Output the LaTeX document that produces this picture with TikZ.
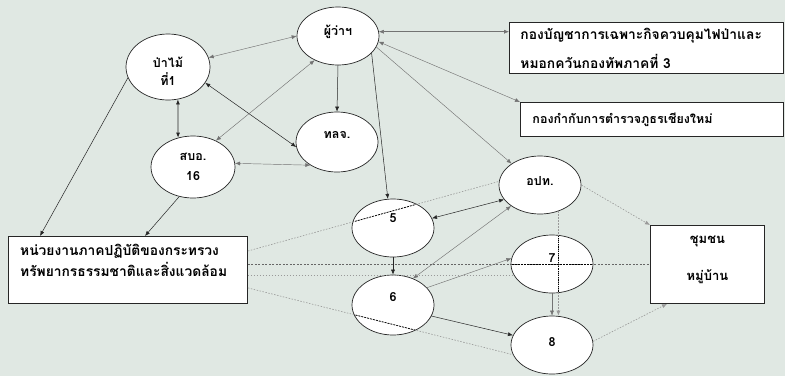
\documentclass[tikz,border=0pt]{standalone}
\usepackage{fontspec}
\newfontfamily\thaifont[Script=Thai]{Loma}
\usetikzlibrary{shapes.geometric,arrows.meta,calc}
\definecolor{bg}{HTML}{E0E8E3}
\begin{document}
\begin{tikzpicture}[x=1pt,y=-1pt,
  font=\thaifont\bfseries\fontsize{12.5}{14}\selectfont,
  ell/.style={ellipse,draw=black!85,fill=white,line width=0.7pt,inner sep=0pt,minimum width=82pt,minimum height=58pt},
  box/.style={rectangle,draw=black!85,fill=white,line width=0.9pt,inner sep=0pt,anchor=north west},
  lbl/.style={inner sep=0pt,align=center},
  conn/.style={draw=black!55,line width=0.45pt},
  dark/.style={draw=black!85,line width=0.5pt},
  tip/.style={-{Latex[length=5pt,width=4pt]}},
  both/.style={{Latex[length=5pt,width=4pt]}-{Latex[length=5pt,width=4pt]}},
  dots/.style={draw=black!40,line width=0.6pt,dash pattern=on 1.5pt off 1.5pt},
  dashline/.style={draw=black!60,line width=0.5pt,dash pattern=on 2pt off 1.5pt},
  innerdash/.style={draw=black,line width=0.7pt,dash pattern=on 2pt off 1pt}
]
\fill[bg] (0,0) rectangle (785,376);
\useasboundingbox (0,0) rectangle (785,376);

% ellipses
\node[ell,minimum width=84pt,minimum height=66pt,label={[lbl,yshift=-4pt]center:{ป่าไม้\\[4pt]ที่1}}] (pm) at (168,67) {};
\node[ell,label={[lbl,yshift=4pt]center:ผู้ว่าฯ}] (gov) at (338,36) {};
\node[ell,minimum height=60pt,label={[lbl,yshift=7pt]center:ทลจ.}] (tlj) at (337,142) {};
\node[ell,minimum width=84pt,minimum height=62pt,label={[lbl]center:{สบอ.\\[6pt]16}}] (sbo) at (193,167) {};
\node[ell] (n5) at (393,228) {};
\node[ell,minimum height=60pt] (n6) at (393,305) {};
\node[ell,label={[lbl,yshift=4pt]center:อปท.}] (opt) at (540,185) {};
\node[ell] (n7) at (552,264) {};
\node[ell] (n8) at (552,345) {};

% boxes
\node[box,minimum width=274pt,minimum height=51pt,text width=252pt,inner xsep=11pt,align=left,font=\thaifont\bfseries\fontsize{13.8}{29}\selectfont] (b1) at (509,22) {กองบัญชาการเฉพาะกิจควบคุมไฟป่าและ\\หมอกควันกองทัพภาคที่ 3};
\node[box,minimum width=263pt,minimum height=34pt,text width=239pt,inner xsep=12pt,align=left] (b2) at (520,102) {กองกำกับการตำรวจภูธรเชียงใหม่};
\node[box,minimum width=239pt,minimum height=67pt] (hn) at (8,236) {};
\node[lbl,anchor=north west,align=left,font=\thaifont\bfseries\fontsize{13.8}{21}\selectfont] (hnt) at ($(hn.north west)+(12,8)$) {หน่วยงานภาคปฏิบัติของกระทรวง\\ทรัพยากรธรรมชาติและสิ่งแวดล้อม};
\node[box,minimum width=114pt,minimum height=78pt] (cm) at (650,225) {};
\node[lbl,font=\thaifont\bfseries\fontsize{13}{37}\selectfont] (cmt) at ($(cm.center)+(0,-5)$) {ชุมชน\\หมู่บ้าน};

% solid connectors
\draw[conn,both] (pm.13) -- (gov.180);
\draw[dark,tip] (gov.south) -- (tlj.north);
\draw[dark,both] (pm.-23) -- (tlj.187);
\draw[conn,both] (sbo.49) -- (gov.226);
\draw[conn,both] (tlj.221) -- (sbo.5);
\draw[dark,both,line width=0.8pt] (pm.-73) -- (sbo.117);
\draw[dark,tip] (pm.195) -- ($(hn.north west)+(32,0)$);
\draw[dark,tip] (sbo.245) -- ($(hn.north west)+(137,0)$);
\draw[dark,tip] (gov.-27) -- (n5.100);
\draw[conn,both] (gov.6) -- (gov.6 -| b1.west);
\draw[conn,both] (gov.-8) -- (b2.north west);
\draw[conn,tip] (gov.-16) -- (opt.143);
\draw[dark,both] (n5.14) -- (opt.202);
\draw[conn,both] (n6.53) -- (opt.216);
\draw[dark,tip] (n5.south) -- (n6.north);
\draw[conn,tip] (n6.27) -- (n7.172);
\draw[dark,tip] (n6.-16) -- (n8.166);
\draw[conn,tip] (n7.south) -- (n8.north);

% dotted connectors
\draw[dots,tip] (opt.-55) -- (opt.-55 |- n8.north);
\draw[dots,tip] (opt.east) -- (cm.north west);
\draw[dots,tip] (n8.5) -- ($(cm.south west)+(17,0)$);
\draw[dots] ($(hn.north east)+(0,15)$) -- (opt.175);
\draw[dashline] (cm.west -| hn.east) -- (cm.west);
\draw[dots] (n7.197 -| hn.east) -- (n7.197);
\draw[dots] ($(hn.south east)+(0,-16)$) -- (n8.194);

% darker parts inside ellipses
\begin{scope}
\clip (n5.center) ellipse [x radius=40.5pt,y radius=28.5pt];
\draw[innerdash] ($(hn.north east)+(0,15)$) -- (opt.175);
\end{scope}
\begin{scope}
\clip (n6.center) ellipse [x radius=40.5pt,y radius=29.5pt];
\draw[innerdash] ($(hn.south east)+(0,-16)$) -- (n8.194);
\end{scope}
\begin{scope}
\clip (n7.center) ellipse [x radius=40.5pt,y radius=28.5pt];
\draw[innerdash] (cm.west -| hn.east) -- (cm.west);
\draw[innerdash,dash pattern=on 1.2pt off 1pt,line width=0.9pt] (opt.-55) -- (opt.-55 |- n8.north);
\end{scope}

% ellipse number labels
\node[lbl] (l5) at (393,218) {5};
\node[lbl] (l6) at (393,297) {6};
\node[lbl] (l7) at (552,258) {7};
\node[lbl] (l8) at (552,342) {8};
\end{tikzpicture}
\end{document}
